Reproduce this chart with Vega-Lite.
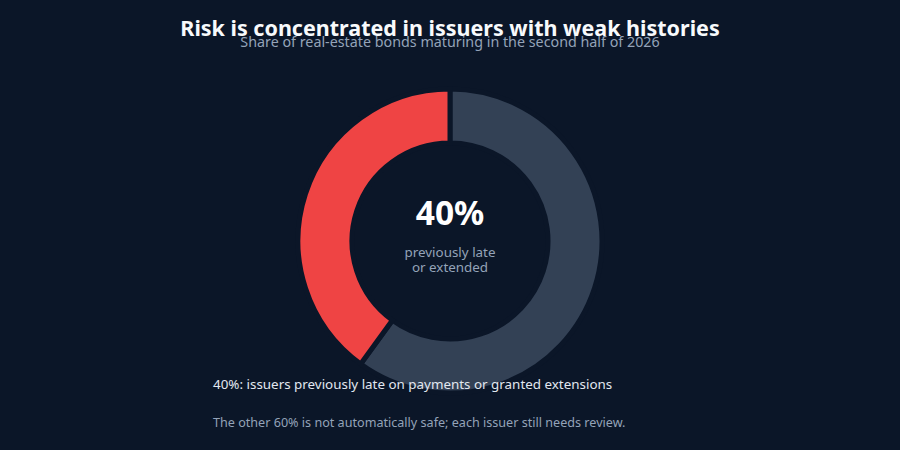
{
  "$schema": "https://vega.github.io/schema/vega-lite/v6.json",
  "width": 900,
  "height": 450,
  "autosize": {"type": "fit", "contains": "padding"},
  "padding": {"top": 19, "left": 0, "right": 0, "bottom": 22},
  "background": "#0b1628",
  "config": {"view": {"stroke": null}, "font": "Noto Sans"},
  "title": {
    "text": "Risk is concentrated in issuers with weak histories",
    "subtitle": "Share of real-estate bonds maturing in the second half of 2026",
    "anchor": "middle",
    "frame": "group",
    "fontSize": 21.5,
    "fontWeight": "bold",
    "color": "#f8fafc",
    "subtitleFontSize": 14.3,
    "subtitleColor": "#94a3b8",
    "subtitlePadding": -5,
    "offset": 4
  },
  "datasets": {
    "segments": [
      {"segment": "Other issuers", "share": 60, "order": 1},
      {"segment": "Previously late or extended", "share": 40, "order": 2}
    ]
  },
  "data": {"name": "segments"},
  "layer": [
    {
      "mark": {"type": "arc", "radius": 152, "radius2": 98, "stroke": "#0b1628", "strokeWidth": 5},
      "encoding": {
        "theta": {"field": "share", "type": "quantitative", "stack": true},
        "order": {"field": "order", "type": "quantitative"},
        "color": {
          "field": "segment",
          "type": "nominal",
          "scale": {"domain": ["Other issuers", "Previously late or extended"], "range": ["#334155", "#ef4444"]},
          "legend": null
        }
      }
    },
    {
      "transform": [{"filter": "datum.order == 2"}],
      "mark": {"type": "text", "fontSize": 33.5, "fontWeight": "bold", "color": "#ffffff", "baseline": "alphabetic", "dy": -16},
      "encoding": {"text": {"value": "40%"}}
    },
    {
      "transform": [{"filter": "datum.order == 2"}],
      "mark": {"type": "text", "fontSize": 13.4, "color": "#94a3b8", "baseline": "alphabetic", "dy": 16, "lineHeight": 15},
      "encoding": {"text": {"value": ["previously late", "or extended"]}}
    },
    {
      "transform": [{"filter": "datum.order == 2"}],
      "mark": {"type": "text", "fontSize": 13.4, "color": "#e2e8f0", "baseline": "alphabetic", "align": "left", "dx": -237, "dy": 148},
      "encoding": {"text": {"value": "40%: issuers previously late on payments or granted extensions"}}
    },
    {
      "transform": [{"filter": "datum.order == 2"}],
      "mark": {"type": "text", "fontSize": 12.6, "color": "#94a3b8", "baseline": "alphabetic", "align": "left", "dx": -237, "dy": 186},
      "encoding": {"text": {"value": "The other 60% is not automatically safe; each issuer still needs review."}}
    }
  ]
}
